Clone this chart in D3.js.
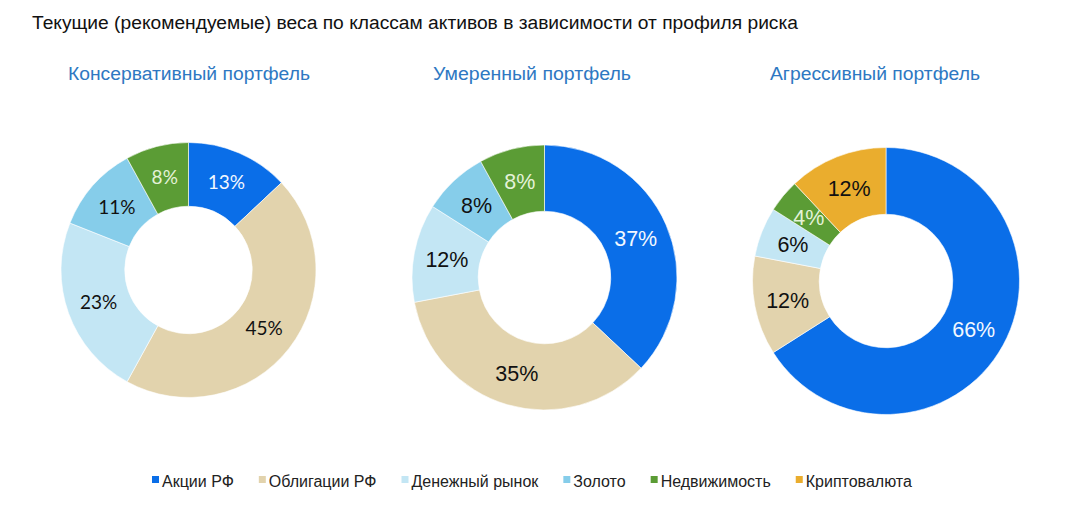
<!DOCTYPE html>
<html>
<head>
<meta charset="utf-8">
<script src="https://cdn.jsdelivr.net/npm/d3@7"></script>
<style>
  body { margin: 0; background: #fff; }
  svg { display: block; }
</style>
</head>
<body>
<svg width="1066" height="508"></svg>
<script>
// Asset classes, clockwise from 12 o'clock
const categories = ["Акции РФ", "Облигации РФ", "Денежный рынок", "Золото", "Недвижимость", "Криптовалюта"];
const colors = ["#0A6EE8", "#E2D3AD", "#C3E6F4", "#86CDEA", "#5B9C35", "#EAAD2E"];

const portfolioNames = ["Консервативный портфель", "Умеренный портфель", "Агрессивный портфель"];
const conservative = [13, 45, 23, 11, 8, 0];
const moderate = [37, 35, 12, 8, 8, 0];
const aggressive = [66, 12, 6, 0, 4, 12];

const title = "Текущие (рекомендуемые) веса по классам активов в зависимости от профиля риска";

// per-chart geometry
const charts = [
  {name: portfolioNames[0], values: conservative, cx: 188.5, cy: 270, r: 127.5, titleX: 189, titleW: 242, font: "Lato, 'Open Sans', sans-serif", fs: 19},
  {name: portfolioNames[1], values: moderate, cx: 544.5, cy: 277.5, r: 132.5, titleX: 532, titleW: 198, font: "'Liberation Sans', Arial, sans-serif", fs: 21.5},
  {name: portfolioNames[2], values: aggressive, cx: 886, cy: 281, r: 133.5, titleX: 875, titleW: 210, font: "'Liberation Sans', Arial, sans-serif", fs: 21.5}
];

const labelColor = i => i === 0 ? "#F2F8FF" : (i === 4 ? "#E4F2D8" : "#111");

const svg = d3.select("svg");

svg.append("text")
  .attr("x", 32)
  .attr("y", 29)
  .attr("font-family", "'Liberation Sans', Arial, sans-serif")
  .attr("font-size", 18)
  .attr("textLength", 766)
  .attr("lengthAdjust", "spacingAndGlyphs")
  .attr("fill", "#111")
  .text(title);

const pie = d3.pie().sort(null).value(d => d.v);

charts.forEach(c => {
  const g = svg.append("g").attr("transform", "translate(" + c.cx + "," + c.cy + ")");
  const arc = d3.arc().innerRadius(c.r * 0.5).outerRadius(c.r);
  const data = c.values.map((v, i) => ({v: v, i: i})).filter(d => d.v > 0);
  const arcs = pie(data);

  g.selectAll("path")
    .data(arcs)
    .enter()
    .append("path")
    .attr("d", arc)
    .attr("fill", d => colors[d.data.i])
    .attr("stroke", "#fff")
    .attr("stroke-width", 0.6);

  g.selectAll("text")
    .data(arcs)
    .enter()
    .append("text")
    .attr("x", d => arc.centroid(d)[0])
    .attr("y", d => arc.centroid(d)[1])
    .attr("dy", "0.36em")
    .attr("text-anchor", "middle")
    .attr("font-family", c.font)
    .attr("font-size", c.fs)
    .attr("fill", d => labelColor(d.data.i))
    .text(d => d.data.v + "%");

  svg.append("text")
    .attr("x", c.titleX - c.titleW / 2)
    .attr("y", 80)
    .attr("font-family", "'Liberation Sans', Arial, sans-serif")
    .attr("font-size", 18)
    .attr("textLength", c.titleW)
    .attr("lengthAdjust", "spacingAndGlyphs")
    .attr("fill", "#2E78C2")
    .text(c.name);
});

// Legend laid out left to right from measured text widths
const legend = svg.append("g").attr("transform", "translate(152,481)");
let lx = 0;
categories.forEach((name, i) => {
  legend.append("rect")
    .attr("x", lx)
    .attr("y", -5)
    .attr("width", 7)
    .attr("height", 7)
    .attr("fill", colors[i]);
  const t = legend.append("text")
    .attr("x", lx + 10)
    .attr("y", 0)
    .attr("dy", "0.35em")
    .attr("font-family", "'Liberation Sans', Arial, sans-serif")
    .attr("font-size", 16)
    .attr("fill", "#222")
    .text(name);
  lx += 10 + t.node().getComputedTextLength() + 25;
});
</script>
</body>
</html>
